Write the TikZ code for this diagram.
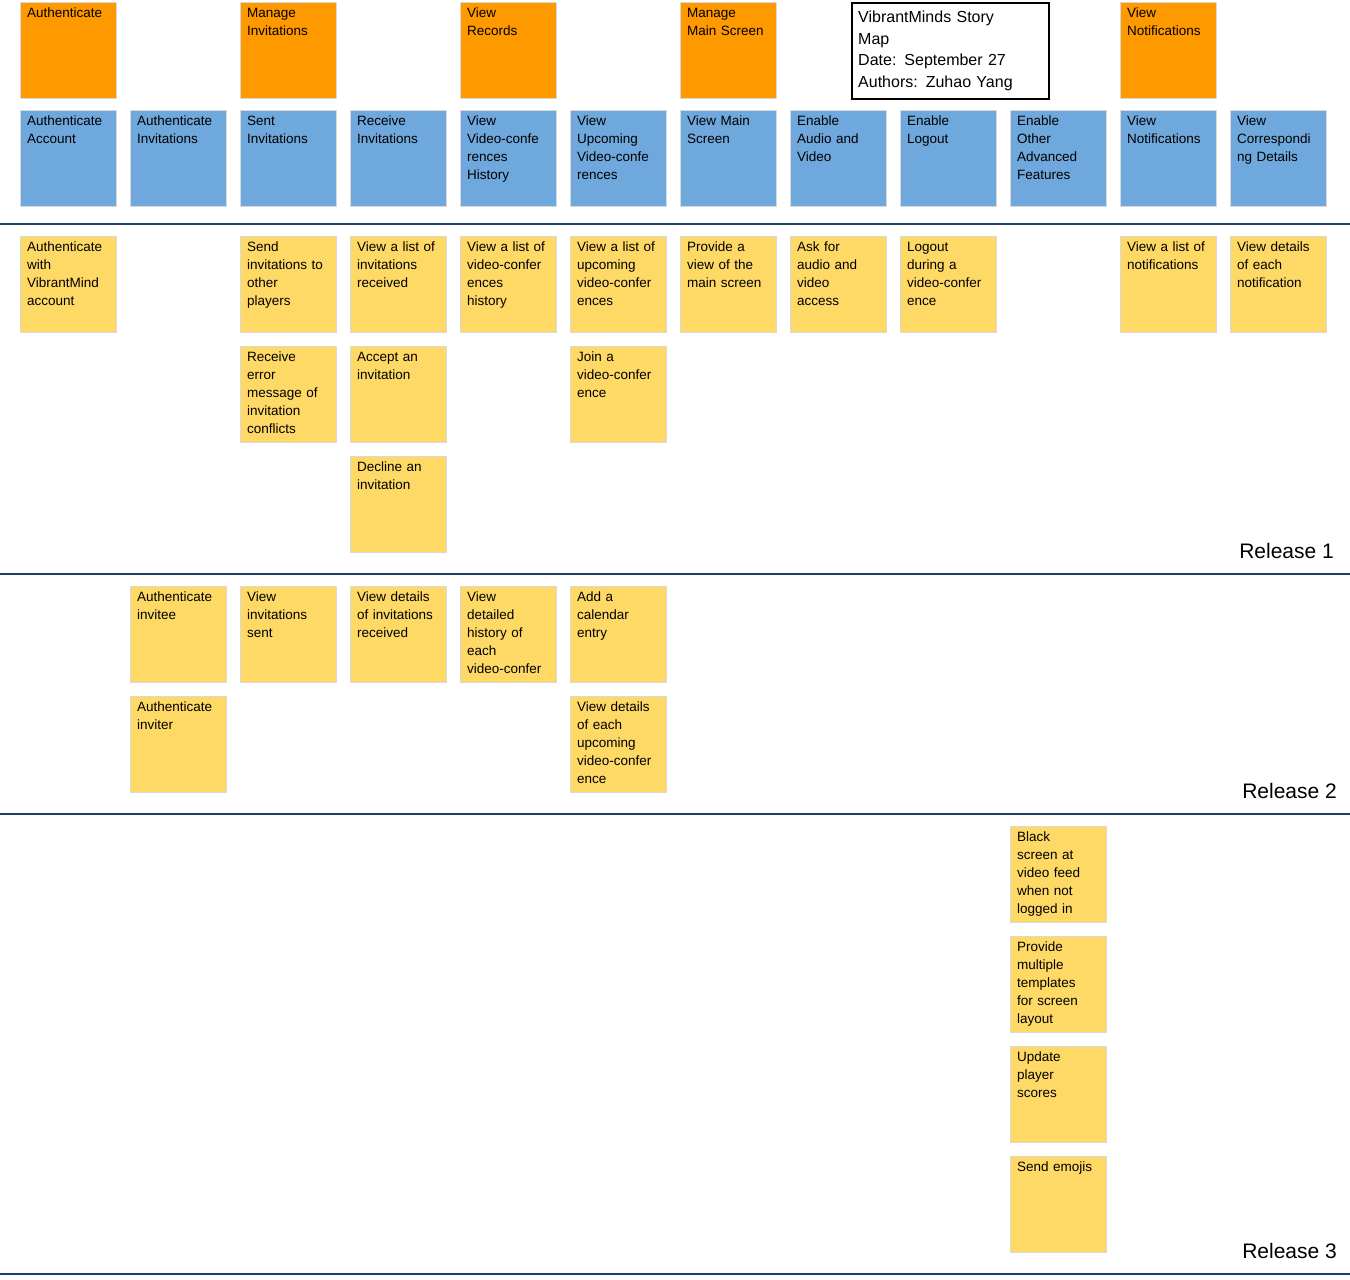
\documentclass[tikz,border=0pt]{standalone}
\usepackage{fontspec}
\setmainfont{Liberation Sans}
\usetikzlibrary{positioning}
\definecolor{epic}{HTML}{FF9900}
\definecolor{activity}{HTML}{6FA8DC}
\definecolor{story}{HTML}{FFD966}
\definecolor{lane}{HTML}{1F3F66}
\newcommand{\card}[5]{%
  \node [card, fill=#4] (#1) at (#2,#3) {};
  \node [cardtext] (#1_t) at (#1.north west) {#5};
}
\begin{document}
\begin{tikzpicture}[x=1pt, y=-1pt]
        % Define block styles
        \tikzstyle{card} = [rectangle, anchor=north west, minimum width=96pt, minimum height=96pt, inner sep=0pt, draw=white!85!black, line width=0.6pt]
        \tikzstyle{cardtext} = [anchor=north west, text width=92pt, align=left, inner sep=0pt, xshift=7pt, yshift=-6pt, font=\fontsize{13.5}{18}\selectfont]
        \tikzstyle{line} = [draw=lane, line width=1.3pt]
        \tikzstyle{release} = [anchor=south east, inner sep=0pt, font=\fontsize{21}{22}\selectfont]

        \useasboundingbox (0,0) rectangle (1350,1280);

        % Epics
        \card{Epic_Auth}{20}{2}{epic}{Authenticate}
        \card{Epic_Inv}{240}{2}{epic}{Manage\\Invitations}
        \card{Epic_Rec}{460}{2}{epic}{View\\Records}
        \card{Epic_Main}{680}{2}{epic}{Manage\\Main Screen}
        \card{Epic_Notif}{1120}{2}{epic}{View\\Notifications}
        \node [draw, line width=1.5pt, fill=white, anchor=north west, minimum width=197pt, minimum height=96pt, inner sep=0pt] (Title) at (851,2) {};
        \node [cardtext, text width=190pt, font=\fontsize{16}{21.5}\selectfont, yshift=-3pt] (Title_t) at (Title.north west) {VibrantMinds Story\\Map\\Date: September 27\\Authors: Zuhao Yang};

        % Activities
        \card{Act_Account}{20}{110}{activity}{Authenticate\\Account}
        \card{Act_AuthInv}{130}{110}{activity}{Authenticate\\Invitations}
        \card{Act_Sent}{240}{110}{activity}{Sent\\Invitations}
        \card{Act_Recv}{350}{110}{activity}{Receive\\Invitations}
        \card{Act_History}{460}{110}{activity}{View\\Video-confe\\rences\\History}
        \card{Act_Upcoming}{570}{110}{activity}{View\\Upcoming\\Video-confe\\rences}
        \card{Act_Main}{680}{110}{activity}{View Main\\Screen}
        \card{Act_AV}{790}{110}{activity}{Enable\\Audio and\\Video}
        \card{Act_Logout}{900}{110}{activity}{Enable\\Logout}
        \card{Act_Other}{1010}{110}{activity}{Enable\\Other\\Advanced\\Features}
        \card{Act_Notif}{1120}{110}{activity}{View\\Notifications}
        \card{Act_Details}{1230}{110}{activity}{View\\Correspondi\\ng Details}

        % Release 1
        \card{R1_Auth}{20}{236}{story}{Authenticate\\with\\VibrantMind\\account}
        \card{R1_Send}{240}{236}{story}{Send\\invitations to\\other\\players}
        \card{R1_Error}{240}{346}{story}{Receive\\error\\message of\\invitation\\conflicts}
        \card{R1_List}{350}{236}{story}{View a list of\\invitations\\received}
        \card{R1_Accept}{350}{346}{story}{Accept an\\invitation}
        \card{R1_Decline}{350}{456}{story}{Decline an\\invitation}
        \card{R1_History}{460}{236}{story}{View a list of\\video-confer\\ences\\history}
        \card{R1_Upcoming}{570}{236}{story}{View a list of\\upcoming\\video-confer\\ences}
        \card{R1_Join}{570}{346}{story}{Join a\\video-confer\\ence}
        \card{R1_Main}{680}{236}{story}{Provide a\\view of the\\main screen}
        \card{R1_AV}{790}{236}{story}{Ask for\\audio and\\video\\access}
        \card{R1_Logout}{900}{236}{story}{Logout\\during a\\video-confer\\ence}
        \card{R1_Notif}{1120}{236}{story}{View a list of\\notifications}
        \card{R1_Details}{1230}{236}{story}{View details\\of each\\notification}

        % Release 2
        \card{R2_Invitee}{130}{586}{story}{Authenticate\\invitee}
        \card{R2_Inviter}{130}{696}{story}{Authenticate\\inviter}
        \card{R2_Sent}{240}{586}{story}{View\\invitations\\sent}
        \card{R2_Recv}{350}{586}{story}{View details\\of invitations\\received}
        \card{R2_History}{460}{586}{story}{View\\detailed\\history of\\each\\video-confer}
        \card{R2_Calendar}{570}{586}{story}{Add a\\calendar\\entry}
        \card{R2_Upcoming}{570}{696}{story}{View details\\of each\\upcoming\\video-confer\\ence}

        % Release 3
        \card{R3_Black}{1010}{826}{story}{Black\\screen at\\video feed\\when not\\logged in}
        \card{R3_Templates}{1010}{936}{story}{Provide\\multiple\\templates\\for screen\\layout}
        \card{R3_Scores}{1010}{1046}{story}{Update\\player\\scores}
        \card{R3_Emojis}{1010}{1156}{story}{Send emojis}

        % Release lines
        \coordinate (L0a) at (0,224); \coordinate (L0b) at (1350,224);
        \coordinate (L1a) at (0,574); \coordinate (L1b) at (1350,574);
        \coordinate (L2a) at (0,814); \coordinate (L2b) at (1350,814);
        \coordinate (L3a) at (0,1274); \coordinate (L3b) at (1350,1274);
        \path [line] (L0a) -- (L0b);
        \path [line] (L1a) -- (L1b);
        \path [line] (L2a) -- (L2b);
        \path [line] (L3a) -- (L3b);
        \node [release] (Rel1) at (1334,559) {Release 1};
        \node [release] (Rel2) at (1337,799) {Release 2};
        \node [release] (Rel3) at (1337,1259) {Release 3};
\end{tikzpicture}
\end{document}
